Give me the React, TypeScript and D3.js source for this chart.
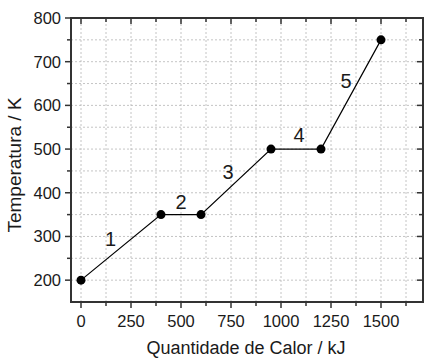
import React from "react";
import * as d3 from "d3";

const width = 428;
const height = 362;
const margin = { top: 18, right: 5, bottom: 60, left: 71 };

// heat added (kJ) and temperature (K) at each break point
const heatValues = [0, 400, 600, 950, 1200, 1500];
const tempValues = [200, 350, 350, 500, 500, 750];

// stage numbers and where they sit, in data units
const stageLabels = ["1", "2", "3", "4", "5"];
const stageHeat = [148, 500, 735, 1090, 1325];
const stageTemp = [295, 380, 448, 533, 656];

const xTicks = [0, 250, 500, 750, 1000, 1250, 1500];
const yTicks = [200, 300, 400, 500, 600, 700, 800];

const font = "'Liberation Sans', Arial, sans-serif";
const frameColor = "#333";
const textColor = "#1a1a1a";

export default function App() {
  const x = d3
    .scaleLinear()
    .domain([-50, 1710])
    .range([margin.left, width - margin.right]);
  const y = d3
    .scaleLinear()
    .domain([150, 800])
    .range([height - margin.bottom, margin.top]);

  const x0 = x.range()[0];
  const x1 = x.range()[1];
  const y0 = y.range()[0];
  const y1 = y.range()[1];

  // minor ticks / grid between majors
  const xMinor = d3.range(-125, 1750, 125).filter(v => v > -50 && v < 1710);
  const yMinor = d3.range(150, 801, 50).filter(v => v > 150 && v < 800);

  const pts = heatValues.map((h, i) => [x(h), y(tempValues[i])] as [number, number]);
  const line = d3.line<[number, number]>()(pts) || "";

  return (
    <svg
      width={width}
      height={height}
      style={{ position: "absolute", left: 0, top: 0, background: "#fff" }}
      fontFamily={font}
    >
      {/* grid */}
      <g stroke="#b5b5b5" strokeWidth={0.8} strokeDasharray="2,2">
        {xMinor.map(v => (
          <line key={"gx" + v} x1={x(v)} x2={x(v)} y1={y0} y2={y1} />
        ))}
        {yMinor.map(v => (
          <line key={"gy" + v} x1={x0} x2={x1} y1={y(v)} y2={y(v)} />
        ))}
      </g>

      {/* ticks */}
      <g stroke={frameColor} strokeWidth={1.5}>
        {xMinor.map(v => {
          const major = xTicks.includes(v);
          const l = major ? 6 : 4;
          return (
            <g key={"tx" + v}>
              <line x1={x(v)} x2={x(v)} y1={y0} y2={y0 + l} />
              <line x1={x(v)} x2={x(v)} y1={y1} y2={y1 + l} />
            </g>
          );
        })}
        {yMinor.concat([800]).map(v => {
          const major = yTicks.includes(v);
          const l = major ? 6 : 4;
          return (
            <g key={"ty" + v}>
              <line x1={x0} x2={x0 - l} y1={y(v)} y2={y(v)} />
              <line x1={x1} x2={x1 - l} y1={y(v)} y2={y(v)} />
            </g>
          );
        })}
      </g>

      {/* frame */}
      <rect
        x={x0}
        y={y1}
        width={x1 - x0}
        height={y0 - y1}
        fill="none"
        stroke={frameColor}
        strokeWidth={2}
      />

      {/* tick labels */}
      <g fill={textColor} fontSize={16.5}>
        {xTicks.map(v => (
          <text key={"lx" + v} x={x(v)} y={y0 + 24.5} textAnchor="middle">
            {v}
          </text>
        ))}
        {yTicks.map(v => (
          <text key={"ly" + v} x={x0 - 10} y={y(v) + 6} textAnchor="end">
            {v}
          </text>
        ))}
      </g>

      {/* axis titles */}
      <text
        x={246}
        y={354}
        textAnchor="middle"
        fontSize={18}
        fill={textColor}
      >
        Quantidade de Calor / kJ
      </text>
      <text
        transform={`translate(21,165) rotate(-90)`}
        textAnchor="middle"
        fontSize={19}
        fill={textColor}
      >
        Temperatura / K
      </text>

      {/* data */}
      <path d={line} fill="none" stroke="#000" strokeWidth={1.2} />
      {pts.map((p, i) => (
        <circle key={"p" + i} cx={p[0]} cy={p[1]} r={4.5} fill="#000" />
      ))}
      {stageLabels.map((t, i) => (
        <text
          key={"s" + t}
          x={x(stageHeat[i])}
          y={y(stageTemp[i]) + 7.2}
          textAnchor="middle"
          fontSize={20}
          fill={textColor}
        >
          {t}
        </text>
      ))}
    </svg>
  );
}
